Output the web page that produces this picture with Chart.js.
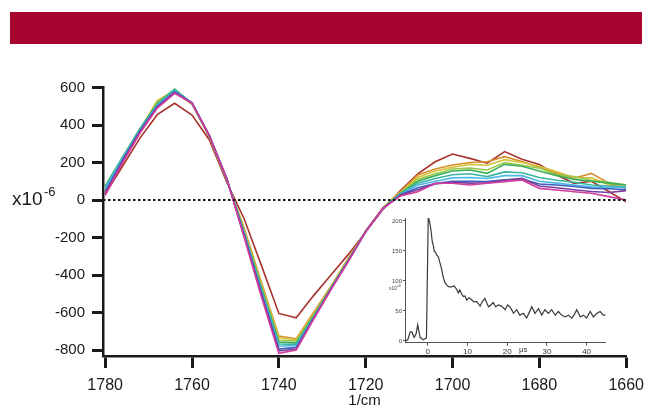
<!DOCTYPE html>
<html><head><meta charset="utf-8">
<script src="https://cdn.jsdelivr.net/npm/chart.js@4"></script>
<style>
html,body{margin:0;padding:0;background:#fff;}
#wrap{position:relative;width:652px;height:411px;overflow:hidden;font-family:"Liberation Sans",Arial,Helvetica,sans-serif;color:#1a1a1a}
#banner{position:absolute;left:10px;top:12px;width:632px;height:32px;background:#A7042F}
#main{position:absolute;left:0;top:0}
#inset{position:absolute;left:360px;top:205px}
.lbl{position:absolute;white-space:nowrap;line-height:1}
</style></head><body>
<div id="wrap">
<div id="banner"></div>
<canvas id="main" width="652" height="411"></canvas>
<canvas id="inset" width="260" height="160"></canvas>
<span class="lbl" style="left:12px;top:189px;font-size:19px">x10</span>
<span class="lbl" style="left:44px;top:185px;font-size:13px">-6</span>
<span class="lbl" style="left:519px;top:346px;font-size:8px;color:#333">μs</span>
<span class="lbl" style="left:389px;top:284px;font-size:5px;color:#444">x10<sup>-6</sup></span>
</div>
<script>
const wavenumbers = [1780,1776,1772,1768,1764,1760,1756,1752,1748,1744,1740,1736,1732,1728,1724,1720,1716,1712,1708,1704,1700,1696,1692,1688,1684,1680,1676,1672,1668,1664,1660];
const xTicks = [1780,1760,1740,1720,1700,1680,1660];
const yTicks = [600,400,200,0,-200,-400,-600,-800];

const seriesRed     = [30,180,330,455,516,453,320,95,-100,-350,-605,-628,-510,-400,-290,-170,-50,50,140,204,245,222,196,258,217,190,133,89,100,45,-10];
const seriesOrange  = [45,210,370,525,578,510,335,105,-150,-440,-725,-740,-600,-460,-310,-165,-40,45,133,165,187,200,204,231,205,175,142,116,142,89,62];
const seriesYellow  = [55,220,375,530,585,512,338,108,-160,-450,-735,-745,-610,-465,-315,-165,-42,40,120,155,175,190,185,215,200,180,150,120,118,82,70];
const seriesLime    = [65,222,378,520,588,514,340,110,-165,-460,-748,-752,-615,-468,-318,-167,-43,38,110,140,165,170,160,200,185,170,135,125,105,95,80];
const seriesGreen   = [75,228,380,515,592,515,342,112,-170,-470,-758,-762,-620,-470,-320,-168,-44,35,100,130,155,160,142,190,180,155,130,110,100,90,80];
const seriesTeal    = [70,225,377,510,588,516,342,112,-175,-478,-768,-770,-625,-472,-322,-168,-44,32,90,115,135,140,125,150,145,120,105,95,80,75,70];
const seriesCyan    = [60,220,372,505,583,517,343,113,-180,-485,-780,-776,-628,-474,-324,-168,-45,30,80,100,118,120,115,130,130,100,90,80,70,68,65];
const seriesBlue    = [45,212,368,500,578,518,343,113,-185,-495,-795,-786,-630,-475,-325,-168,-45,28,65,88,100,100,98,108,112,85,80,72,62,60,55];
const seriesPurple  = [35,205,362,495,573,518,344,114,-192,-505,-805,-795,-633,-476,-326,-168,-45,25,55,85,95,90,92,105,115,75,65,55,45,40,50];
const seriesMagenta = [25,198,356,490,569,516,344,114,-199,-517,-818,-800,-637,-478,-327,-168,-45,22,44,89,89,80,89,98,107,62,53,44,36,18,0];

const zeroLineX = [1780.5,1660];
const zeroLineY = [0,0];

const insetTimes  = [-5.7,-5.0,-4.4,-4.0,-3.4,-2.9,-2.5,-1.9,-1.1,-0.3,
                     0.15,0.5,0.83,1.17,1.4,1.67,2.0,2.3,2.7,3.1,
                     3.5,3.9,4.3,4.8,5.4,6.0,6.6,7.3,7.7,8.1,
                     8.6,9.0,9.4,9.8,10.4,11.0,11.6,12.3,13.2,13.8,
                     14.4,15.3,15.9,16.5,17.1,17.8,18.6,19.5,20.1,20.7,
                     21.6,22.4,23.2,24.1,24.9,25.6,26.2,27.0,27.9,28.7,
                     29.5,30.4,31.2,32.1,32.9,33.7,34.6,35.4,36.3,37.0,
                     37.5,38.4,39.2,40.0,40.9,41.7,42.6,43.4,44.2,44.8];
const insetValues = [0,2,15,15,6,12,27,6,2,5,
                     207,198,185,165,160,149,148,143,140,130,
                     120,107,98,93,90,90,92,86,80,85,
                     78,74,75,68,72,69,65,66,58,66,
                     71,57,60,64,57,60,58,52,60,57,
                     46,52,43,46,38,48,57,46,54,43,
                     52,46,52,43,49,43,40,43,38,45,
                     52,40,43,38,49,40,46,49,43,43];
const insetXTicks = [0,10,20,30,40];
const insetYTicks = [0,50,100,150,200];

const F = '"Liberation Sans", Arial, Helvetica, sans-serif';
const INK = '#1a1a1a';

const seriesList = [seriesRed,seriesOrange,seriesYellow,seriesLime,seriesGreen,seriesTeal,seriesCyan,seriesBlue,seriesPurple,seriesMagenta];
const seriesColors = ['#A8322D','#D8902E','#D4C23A','#9CC84A','#3DAF5A','#3CB4A0','#4DB8E8','#3D5FC0','#7A3C9E','#D23C9C'];

const datasets = seriesList.map((s, k) => ({
  data: wavenumbers.map((w, i) => ({x: w, y: s[i]})),
  borderColor: seriesColors[k],
  borderWidth: 1.6,
  pointRadius: 0,
  tension: 0,
  fill: false,
  order: 10 - k
}));
datasets.push({
  data: zeroLineX.map((w, i) => ({x: w, y: zeroLineY[i]})),
  borderColor: '#111',
  borderWidth: 2,
  borderDash: [2.5, 2.5],
  pointRadius: 0,
  fill: false,
  order: -1
});

new Chart(document.getElementById('main'), {
  type: 'line',
  data: { datasets },
  options: {
    responsive: false, animation: false, devicePixelRatio: 1,
    layout: { padding: { left: 0, top: 87.5, right: 19.5, bottom: 0 } },
    plugins: { legend: { display: false }, tooltip: { enabled: false } },
    scales: {
      x: {
        type: 'linear', reverse: true, min: 1660, max: 1780.5,
        afterFit: s => { s.height = 55; },
        afterBuildTicks: s => { s.ticks = xTicks.map(v => ({ value: v })); },
        grid: { drawOnChartArea: false, drawTicks: true, tickLength: 12, tickWidth: 3, tickColor: INK },
        border: { display: true, color: INK, width: 2.5 },
        ticks: { padding: 8, color: INK, font: { family: F, size: 16 }, callback: v => String(v), maxRotation: 0, autoSkip: false },
        title: { display: true, text: '1/cm', color: INK, font: { family: F, size: 15 }, padding: { top: 0, bottom: 1 } }
      },
      y: {
        type: 'linear', min: -832, max: 600,
        afterFit: s => { s.width = 103; },
        afterBuildTicks: s => { s.ticks = yTicks.map(v => ({ value: v })); },
        grid: { drawOnChartArea: false, drawTicks: true, tickLength: 11, tickWidth: 3, tickColor: INK },
        border: { display: true, color: INK, width: 2.5 },
        ticks: { padding: 7, color: INK, font: { family: F, size: 15 }, callback: v => String(v), autoSkip: false }
      }
    }
  }
});

new Chart(document.getElementById('inset'), {
  type: 'line',
  data: { datasets: [{
    data: insetTimes.map((t, i) => ({x: t, y: insetValues[i]})),
    borderColor: '#3a3a3a', borderWidth: 1.2, pointRadius: 0, tension: 0, fill: false
  }] },
  options: {
    responsive: false, animation: false, devicePixelRatio: 1,
    layout: { padding: { left: 0, top: 13, right: 14.3, bottom: 0 } },
    plugins: { legend: { display: false }, tooltip: { enabled: false } },
    scales: {
      x: {
        type: 'linear', min: -5.7, max: 44.8,
        afterFit: s => { s.height = 22.3; },
        afterBuildTicks: s => { s.ticks = insetXTicks.map(v => ({ value: v })); },
        grid: { drawOnChartArea: false, drawTicks: true, tickLength: 3, tickWidth: 1, tickColor: '#555' },
        border: { display: true, color: '#555', width: 1 },
        ticks: { padding: 1, color: '#333', font: { family: F, size: 8 }, callback: v => String(v), maxRotation: 0, autoSkip: false }
      },
      y: {
        type: 'linear', min: -3, max: 205,
        afterFit: s => { s.width = 45; },
        afterBuildTicks: s => { s.ticks = insetYTicks.map(v => ({ value: v })); },
        grid: { drawOnChartArea: false, drawTicks: true, tickLength: 2, tickWidth: 1, tickColor: '#555' },
        border: { display: true, color: '#555', width: 1 },
        ticks: { padding: 1, color: '#444', font: { family: F, size: 6 }, callback: v => String(v), autoSkip: false }
      }
    }
  }
});
</script>
</body></html>
